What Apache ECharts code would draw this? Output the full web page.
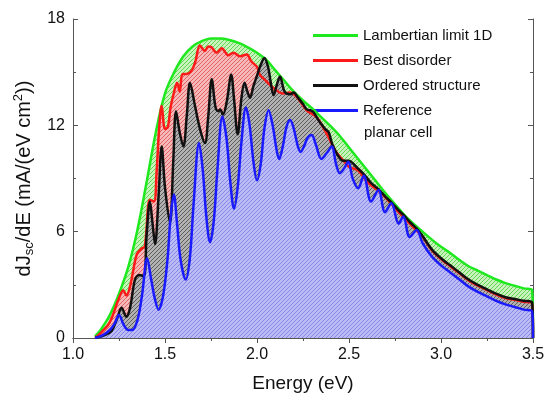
<!DOCTYPE html>
<html>
<head>
<meta charset="utf-8">
<script src="https://cdn.jsdelivr.net/npm/echarts@6/dist/echarts.min.js"></script>
<style>html,body{margin:0;padding:0;background:#fff}#c{width:548px;height:393px}</style>
</head>
<body>
<div id="c"></div>
<script>
// ---- data ----
const xTicks = ['1.0','1.5','2.0','2.5','3.0','3.5'];
const yTicks = [0, 6, 12, 18];

const energyGreen = [1.12,1.15,1.2,1.25,1.3,1.35,1.4,1.45,1.5,1.55,1.6,1.65,1.7,1.75,1.8,1.85,1.9,1.95,2.0,2.05,2.1,2.15,2.2,2.25,2.3,2.35,2.4,2.45,2.5,2.55,2.6,2.65,2.7,2.75,2.8,2.85,2.9,2.95,3.0,3.05,3.1,3.15,3.2,3.25,3.3,3.35,3.4,3.45,3.495,3.5];
const lambertian  = [0.1,0.45,1.3,2.5,4.0,6.1,8.8,11.6,13.8,15.0,15.9,16.45,16.75,16.9,16.9,16.82,16.65,16.4,16.1,15.7,15.1,14.5,13.9,13.4,12.95,12.45,11.95,11.4,10.75,10.1,9.45,8.8,8.15,7.55,6.95,6.45,6.0,5.55,5.15,4.8,4.4,4.05,3.8,3.55,3.3,3.1,2.95,2.8,2.7,0];

const energyRed = [1.12,1.15,1.2,1.246,1.273,1.29,1.31,1.346,1.373,1.39,1.418,1.44,1.455,1.468,1.482,1.5,1.515,1.53,1.545,1.566,1.58,1.595,1.618,1.645,1.665,1.69,1.717,1.735,1.753,1.78,1.808,1.844,1.872,1.908,1.944,1.97,2.0,2.016,2.05,2.09,2.14,2.18,2.216,2.27,2.325,2.38,2.43,2.47,2.5,2.55,2.6,2.66,2.7,2.77,2.83,2.9,2.95,3.0,3.05,3.1,3.15,3.2,3.25,3.3,3.35,3.4,3.45,3.495,3.5];
const bestDisorder = [0,0.28,0.9,2.14,2.7,2.4,2.9,4.7,5.05,5.15,7.8,7.7,9.5,11.8,13.1,11.8,11.9,13.0,13.7,14.4,13.9,14.9,14.9,15.1,15.6,16.5,16.2,16.45,16.4,16.1,16.35,15.95,16.1,15.9,16.0,15.6,15.3,14.85,14.5,14.1,13.8,13.85,13.6,12.85,12.45,11.5,10.5,10.0,9.65,9.45,8.8,8.3,7.9,7.1,6.45,5.7,4.95,4.45,4.05,3.65,3.25,2.95,2.7,2.45,2.25,2.15,2.05,1.95,0];

const energyBlack = [1.12,1.17,1.21,1.24,1.264,1.29,1.31,1.337,1.36,1.385,1.4,1.418,1.432,1.446,1.465,1.482,1.5,1.527,1.545,1.56,1.58,1.6,1.618,1.636,1.663,1.69,1.717,1.735,1.754,1.775,1.79,1.8,1.815,1.835,1.86,1.875,1.895,1.915,1.932,1.948,1.962,1.98,2.0,2.02,2.04,2.06,2.075,2.09,2.108,2.125,2.15,2.18,2.2,2.22,2.25,2.27,2.29,2.306,2.34,2.37,2.39,2.41,2.44,2.467,2.496,2.55,2.58,2.62,2.66,2.7,2.73,2.77,2.8,2.83,2.87,2.9,2.95,3.0,3.05,3.1,3.15,3.2,3.25,3.3,3.35,3.4,3.45,3.495,3.5];
const ordered = [0,0.15,0.4,1.1,1.7,1.2,1.7,3.3,3.55,3.5,5.8,7.7,6.5,5.3,8.0,10.8,8.5,6.5,10.0,12.8,11.6,10.8,12.5,14.4,13.1,11.8,11.0,12.5,14.6,13.0,12.8,12.9,12.6,13.3,14.85,13.5,11.5,13.5,14.4,13.9,13.55,14.2,14.8,15.4,15.8,15.3,14.4,13.7,14.3,14.75,13.9,13.75,13.85,13.6,13.2,12.9,12.85,12.75,12.2,11.8,11.6,10.9,10.3,10.0,10.0,9.55,9.25,8.75,8.4,7.95,7.65,7.2,6.9,6.55,6.15,5.75,5.0,4.5,4.1,3.7,3.3,3.0,2.75,2.5,2.3,2.2,2.1,2.0,0];

const energyBlue = [1.12,1.16,1.2,1.225,1.25,1.275,1.3,1.32,1.35,1.375,1.403,1.425,1.445,1.465,1.49,1.515,1.53,1.548,1.565,1.585,1.612,1.635,1.655,1.685,1.705,1.725,1.745,1.765,1.785,1.812,1.835,1.855,1.875,1.895,1.915,1.94,1.96,1.98,2.0,2.02,2.04,2.063,2.085,2.105,2.12,2.14,2.16,2.18,2.2,2.22,2.237,2.255,2.275,2.297,2.32,2.35,2.38,2.406,2.43,2.45,2.475,2.496,2.52,2.55,2.58,2.62,2.66,2.696,2.73,2.77,2.795,2.83,2.868,2.9,2.95,3.0,3.05,3.1,3.15,3.2,3.25,3.3,3.35,3.4,3.45,3.495,3.5];
const reference = [0,0.15,0.45,0.8,1.3,0.75,0.45,0.45,1.0,2.4,4.5,3.3,2.2,1.6,2.4,4.6,6.8,8.1,6.5,4.4,3.3,4.5,7.5,11.0,9.5,6.8,5.4,6.6,9.5,12.5,11.2,8.8,7.3,8.5,11.0,13.0,12.0,10.0,8.9,9.8,11.8,12.85,12.0,10.7,10.1,10.8,11.9,12.3,11.8,10.9,10.5,10.8,11.3,11.46,10.9,10.1,10.45,10.8,9.8,9.3,9.6,9.95,9.0,8.45,9.16,7.7,8.35,7.1,7.6,6.45,6.85,5.7,6.1,5.35,4.6,4.1,3.7,3.3,2.9,2.6,2.35,2.1,1.9,1.75,1.6,1.5,0];

const seriesNames = ['Lambertian limit 1D','Best disorder','Ordered structure','Reference'];

// ---- build ----
function pairs(xs, ys){ return xs.map((x,i)=>[x, ys[i]]); }
function hatch(bg, fg){
  const c = document.createElement('canvas'); c.width = 4; c.height = 4;
  const g = c.getContext('2d');
  g.fillStyle = bg; g.fillRect(0,0,4,4);
  g.strokeStyle = fg; g.lineWidth = 1;
  g.beginPath();
  g.moveTo(-1,5); g.lineTo(5,-1);
  g.moveTo(-1,1); g.lineTo(1,-1);
  g.moveTo(3,5); g.lineTo(5,3);
  g.stroke();
  return {image: c, repeat: 'repeat'};
}
const sets = [
  {name: seriesNames[0], data: pairs(energyGreen, lambertian), line: '#1ee81e', fill: hatch('#c8f3bc','#62d452')},
  {name: seriesNames[1], data: pairs(energyRed, bestDisorder), line: '#ff1a1a', fill: hatch('#f6b8b8','#e06464')},
  {name: seriesNames[2], data: pairs(energyBlack, ordered), line: '#111111', fill: hatch('#b2b2b2','#5c5c5c')},
  {name: seriesNames[3], data: pairs(energyBlue, reference), line: '#1a1aff', fill: hatch('#bcbcf4','#8484ea')}
];
const FONT = "'Liberation Sans', Arial, Helvetica, sans-serif";
const series = [];
sets.forEach((s, i) => {
  series.push({
    type: 'line', name: s.name + ' area', data: s.data, smooth: 0.35, symbol: 'none',
    lineStyle: {width: 0}, areaStyle: {color: s.fill, opacity: 1}, z: 1 + i * 0.1, silent: true
  });
});
sets.forEach((s, i) => {
  series.push({
    type: 'line', name: s.name, data: s.data, smooth: 0.35, symbol: 'none',
    itemStyle: {color: s.line}, lineStyle: {color: s.line, width: 2.5}, z: 5 + i * 0.1
  });
});

const axisCommon = {
  axisLine: {show: true, lineStyle: {color: '#555', width: 1}},
  axisTick: {show: true, inside: true, length: 5, lineStyle: {color: '#555'}},
  minorTick: {show: true, splitNumber: 2, length: 3, lineStyle: {color: '#555'}},
  splitLine: {show: false}
};

const chart = echarts.init(document.getElementById('c'), null, {renderer: 'canvas'});
chart.setOption({
  animation: false,
  backgroundColor: '#fff',
  grid: {left: 73, right: 15, top: 19, bottom: 55, containLabel: false, outerBoundsMode: 'none'},
  legend: {
    orient: 'vertical', left: 313, top: 28, itemGap: 10, itemWidth: 45, itemHeight: 3, padding: 0,
    icon: 'rect',
    data: sets.map(s => ({name: s.name, itemStyle: {color: s.line}})),
    textStyle: {fontSize: 15, color: '#111', fontFamily: FONT}
  },
  graphic: [{
    type: 'text', left: 364, top: 125,
    style: {text: 'planar cell', font: "15px 'Liberation Sans', Arial, sans-serif", fill: '#111'}
  }],
  xAxis: [
    Object.assign({}, axisCommon, {
      type: 'value', min: 1, max: 3.5, interval: 0.5, position: 'bottom',
      axisLabel: {fontSize: 16, color: '#111', fontFamily: FONT, margin: 9, formatter: v => v.toFixed(1)},
      name: 'Energy (eV)', nameLocation: 'middle', nameGap: 36,
      nameTextStyle: {fontSize: 19, color: '#111', fontFamily: FONT}
    }),
    Object.assign({}, axisCommon, {
      type: 'value', min: 1, max: 3.5, interval: 0.5, position: 'top', axisLabel: {show: false}
    })
  ],
  yAxis: [
    Object.assign({}, axisCommon, {
      type: 'value', min: 0, max: 18, interval: 6, position: 'left',
      axisLabel: {fontSize: 16, color: '#111', fontFamily: FONT, margin: 8},
      name: '{a|dJ}{s|sc}{a|/dE (mA/(eV cm}{p|2}{a|))}', nameLocation: 'middle', nameGap: 34, nameRotate: 90,
      nameTextStyle: {
        color: '#111', fontFamily: FONT,
        rich: {
          a: {fontSize: 20, color: '#111', fontFamily: FONT, lineHeight: 24},
          s: {fontSize: 13, color: '#111', fontFamily: FONT, verticalAlign: 'bottom', lineHeight: 14},
          p: {fontSize: 13, color: '#111', fontFamily: FONT, verticalAlign: 'top', lineHeight: 14}
        }
      }
    }),
    Object.assign({}, axisCommon, {
      type: 'value', min: 0, max: 18, interval: 6, position: 'right', axisLabel: {show: false}
    })
  ],
  series: series
});
</script>
</body>
</html>
